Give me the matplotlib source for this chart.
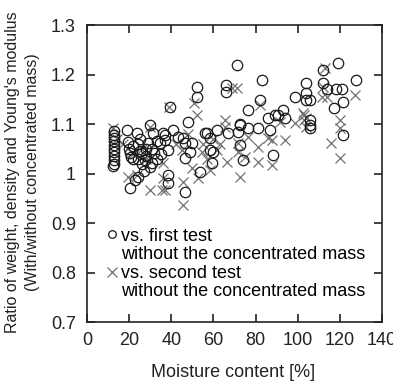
import matplotlib
matplotlib.use("Agg")
import matplotlib.pyplot as plt
from matplotlib.lines import Line2D
from matplotlib.ticker import FuncFormatter

plt.rcParams['font.family'] = ['Liberation Sans', 'DejaVu Sans']

# vs. first test (circles)
first_x = [13, 13, 13, 13, 13, 13, 13, 13, 13, 13, 12.5,
           19, 19.5, 20, 20.4, 21, 20.4, 22, 22.8, 24, 23.6, 24, 25, 26, 27.5, 28, 29, 30,
           30.7, 30, 31.4, 32, 33, 34.6, 36, 37, 37, 38.5, 38.5, 38.5, 39.4, 41, 43, 45.6,
           46.5, 46.5, 46.5, 48, 49, 50, 52, 52, 53.6, 56, 57, 58.4, 58.4, 60, 59.3, 61.7,
           66, 66, 67, 71, 71.6, 72.6, 72.6, 72.6, 74, 76.4, 76.4, 81, 82, 83, 86, 87, 88.3,
           89, 90.6, 93, 94, 98.7, 104, 104, 104, 106, 106, 106, 106, 112, 112, 114, 118,
           121, 117, 119, 121.5, 121.4, 127.6,
           22, 24, 26, 28, 25, 27, 31, 33, 35]
first_y = [1.085, 1.078, 1.072, 1.065, 1.058, 1.05, 1.043, 1.035, 1.028, 1.02, 1.015,
           1.088, 1.064, 1.05, 1.041, 1.033, 0.971, 1.03, 0.987, 0.994, 1.081, 1.06, 1.045,
           1.041, 1.027, 1.05, 1.061, 1.098, 1.021, 1.014, 1.081, 1.041, 1.03, 1.061, 1.081,
           1.068, 1.078, 1.047, 0.997, 0.98, 1.134, 1.088, 1.074, 1.071, 1.061, 1.031, 0.963,
           1.104, 1.044, 1.061, 1.175, 1.155, 1.003, 1.081, 1.081, 1.071, 1.047, 1.043,
           1.021, 1.088, 1.179, 1.165, 1.081, 1.219, 1.084, 1.098, 1.101, 1.058, 1.027,
           1.128, 1.092, 1.092, 1.148, 1.189, 1.112, 1.088, 1.037, 1.118, 1.118, 1.128,
           1.112, 1.155, 1.183, 1.163, 1.148, 1.148, 1.108, 1.098, 1.092, 1.209, 1.183,
           1.17, 1.17, 1.17, 1.132, 1.223, 1.144, 1.078, 1.189,
           1.055, 1.03, 1.02, 1.035, 1.07, 1.005, 1.05, 1.065, 1.04]

# vs. second test (crosses)
second_x = [12.4, 14, 17, 19.5, 22, 23.6, 26, 28, 30, 30, 35.5, 36, 36, 37, 39, 42, 45,
            45.6, 45.6, 48, 50, 51, 52, 52.7, 54.6, 55, 57, 58.4, 60, 61.7, 63, 65.5, 65.5,
            66.4, 68.8, 71, 71.6, 71.6, 72.6, 75, 76.4, 81, 81, 82, 86, 88, 88, 91.6, 94,
            98.7, 102.5, 103, 103, 104, 104, 111.5, 112, 113, 114, 116, 120, 120, 120, 127]
second_y = [1.092, 1.07, 1.06, 0.993, 1.04, 0.997, 1.05, 1.03, 1.094, 0.967, 0.967, 1.021,
            0.99, 0.967, 1.134, 1.06, 1.047, 0.983, 0.936, 1.08, 1.011, 1.142, 1.118, 0.991,
            1.043, 1.06, 1.03, 1.007, 1.07, 1.047, 1.06, 1.108, 1.094, 1.023, 1.172, 1.172,
            1.043, 1.061, 0.993, 1.033, 1.074, 1.054, 1.023, 1.138, 1.071, 1.068, 1.017,
            1.104, 1.068, 1.102, 1.122, 1.118, 1.108, 1.094, 1.112, 1.155, 1.175, 1.213,
            1.155, 1.061, 1.108, 1.092, 1.031, 1.159]

x_ticks = [0, 20, 40, 60, 80, 100, 120, 140]
y_ticks = [0.7, 0.8, 0.9, 1.0, 1.1, 1.2, 1.3]

fig = plt.figure(figsize=(3.93, 3.86), dpi=100)
ax = fig.add_axes([0.2214, 0.1658, 0.7506, 0.7692])

ax.plot(second_x, second_y, linestyle='none', marker='x', markersize=7.8,
        markeredgecolor='#707070', markeredgewidth=0.9)
ax.plot(first_x, first_y, linestyle='none', marker='o', markersize=7.5,
        markerfacecolor='none', markeredgecolor='#1a1a1a', markeredgewidth=0.9)

ax.set_xlim(0, 140)
ax.set_ylim(0.7, 1.3)
ax.set_xticks(x_ticks)
ax.set_yticks(y_ticks)
ax.yaxis.set_major_formatter(FuncFormatter(lambda v, p: '%g' % round(v, 2)))
ax.tick_params(direction='in', length=6, width=1.2, top=True, right=True,
               labelsize=13, colors='#222222')
ax.tick_params(axis='x', pad=7)
ax.tick_params(axis='y', pad=8)
for s in ax.spines.values():
    s.set_linewidth(1.2)
    s.set_color('#222222')

h1 = Line2D([], [], linestyle='none', marker='o', markersize=5.5,
            markerfacecolor='none', markeredgecolor='#1a1a1a', markeredgewidth=0.9)
h2 = Line2D([], [], linestyle='none', marker='x', markersize=6.5,
            markeredgecolor='#707070', markeredgewidth=0.9)
blank = Line2D([], [], linestyle='none')
ax.legend([h1, blank, h2, blank],
          ['vs. first test', 'without the concentrated mass',
           'vs. second test', 'without the concentrated mass'],
          loc='upper left', bbox_to_anchor=(0.066, 0.318), frameon=False,
          fontsize=13, handlelength=0.6, handletextpad=0.2, labelspacing=0.09,
          borderaxespad=0, borderpad=0)

fig.text(0.058, 0.554, "Ratio of weight, density and Young's modulus\n(With/without concentrated mass)",
         rotation=90, ha='center', va='center', multialignment='center', fontsize=11.5,
         linespacing=1.45, color='#222222')
fig.text(0.593, 0.034, 'Moisture content [%]', ha='center', va='center', fontsize=13,
         color='#222222')

fig.savefig('out.png', dpi=100)
